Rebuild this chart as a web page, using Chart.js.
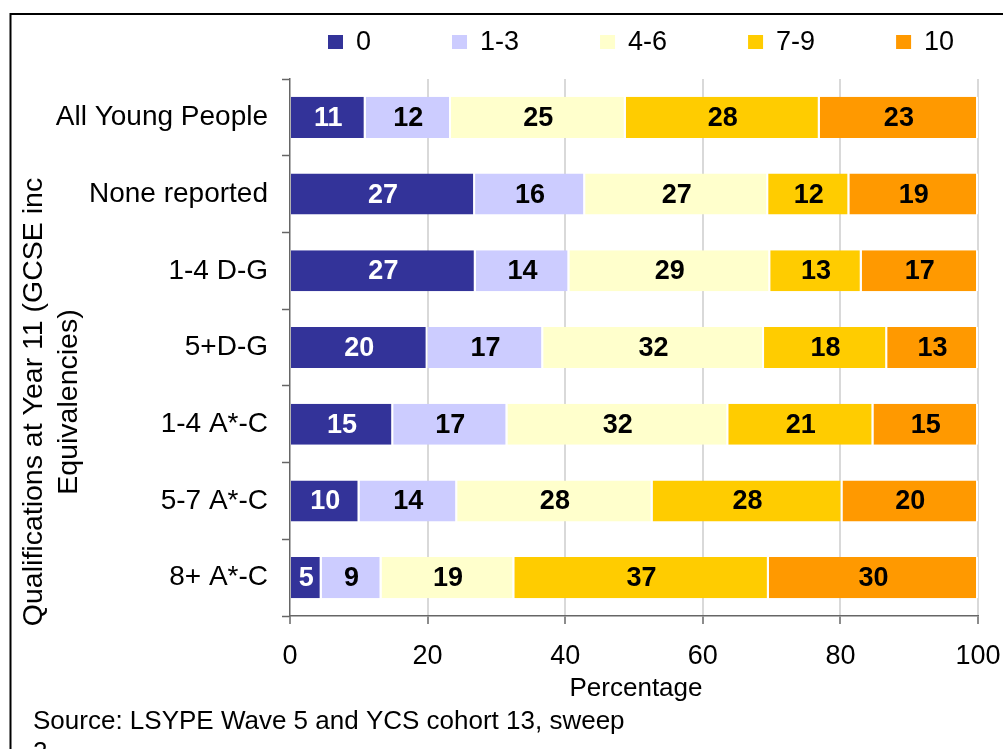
<!DOCTYPE html>
<html>
<head>
<meta charset="utf-8">
<script src="https://cdn.jsdelivr.net/npm/chart.js@4/dist/chart.umd.min.js"></script>
<style>
html,body{margin:0;padding:0;background:#fff;}
#wrap{position:relative;width:1003px;height:749px;}
canvas{display:block;}
</style>
</head>
<body>
<div id="wrap"><canvas id="c" width="1003" height="749"></canvas></div>
<script>
// ---- data ----
const categories = ['All Young People', 'None reported', '1-4 D-G', '5+D-G', '1-4 A*-C', '5-7 A*-C', '8+ A*-C'];
const seriesNames = ['0', '1-3', '4-6', '7-9', '10'];
const s0   = [11.0, 26.9, 27.0, 20.0, 15.0, 10.1, 4.6];
const s1_3 = [12.4, 16.0, 13.6, 16.8, 16.6, 14.2, 8.7];
const s4_6 = [25.4, 26.6, 29.2, 32.1, 32.1, 28.4, 19.3];
const s7_9 = [28.2, 11.8, 13.3, 17.9, 21.1, 27.6, 37.0];
const s10  = [23.0, 18.7, 16.9, 13.2, 15.2, 19.7, 30.4];
const xTicks = [0, 20, 40, 60, 80, 100];
const xTitle = 'Percentage';
const yTitleLines = ['Qualifications at Year 11 (GCSE inc', 'Equivalencies)'];
const sourceLines = ['Source: LSYPE Wave 5 and YCS cohort 13, sweep', '2'];

const colors = ['#333399', '#ccccff', '#ffffcc', '#ffcc00', '#ff9900'];
const labelColors = ['#ffffff', '#000000', '#000000', '#000000', '#000000'];
const allSeries = [s0, s1_3, s4_6, s7_9, s10];

const FONT = 'Arial, "Liberation Sans", sans-serif';

const datasets = allSeries.map((d, i) => ({
  label: seriesNames[i],
  data: d,
  backgroundColor: colors[i],
  borderColor: '#ffffff',
  borderWidth: {top: 0, bottom: 0, left: 0, right: 2},
  borderSkipped: false,
  barPercentage: 0.535,
  categoryPercentage: 1.0
}));

const extras = {
  id: 'extras',
  afterDatasetsDraw(chart) {
    const ctx = chart.ctx;
    ctx.save();
    ctx.font = 'bold 27px ' + FONT;
    ctx.textAlign = 'center';
    ctx.textBaseline = 'middle';
    chart.data.datasets.forEach((ds, i) => {
      const meta = chart.getDatasetMeta(i);
      meta.data.forEach((el, j) => {
        const p = el.getCenterPoint();
        ctx.fillStyle = labelColors[i];
        ctx.fillText(String(Math.round(ds.data[j])), p.x, p.y + 1);
      });
    });
    ctx.restore();
  },
  afterDraw(chart) {
    const ctx = chart.ctx;
    const ca = chart.chartArea;
    ctx.save();
    // legend
    ctx.font = '27px ' + FONT;
    ctx.textBaseline = 'middle';
    ctx.textAlign = 'left';
    let x = 328;
    const ly = 42;
    chart.data.datasets.forEach((ds, i) => {
      ctx.fillStyle = colors[i];
      ctx.fillRect(x, ly - 7, 15, 14);
      ctx.fillStyle = '#000';
      ctx.fillText(ds.label, x + 28, ly + 1);
      x += 28 + ctx.measureText(ds.label).width + 81;
    });
    // x title
    ctx.font = '26px ' + FONT;
    ctx.textAlign = 'center';
    ctx.fillText(xTitle, (ca.left + ca.right) / 2 + 2, 689);
    // source
    ctx.textAlign = 'left';
    sourceLines.forEach((t, k) => ctx.fillText(t, 33, 722 + k * 31));
    // y title
    ctx.font = '28.5px ' + FONT;
    ctx.textAlign = 'center';
    ctx.translate(0, 402);
    ctx.rotate(-Math.PI / 2);
    ctx.textBaseline = 'alphabetic';
    ctx.fillText(yTitleLines[0], 0, 42);
    ctx.fillText(yTitleLines[1], 0, 77);
    ctx.restore();
    // frame
    ctx.save();
    ctx.strokeStyle = '#000';
    ctx.lineWidth = 2;
    ctx.beginPath();
    ctx.moveTo(10.5, 760);
    ctx.lineTo(10.5, 14);
    ctx.lineTo(1010, 14);
    ctx.stroke();
    ctx.restore();
  }
};

new Chart(document.getElementById('c'), {
  type: 'bar',
  data: { labels: categories, datasets },
  options: {
    indexAxis: 'y',
    responsive: false,
    animation: false,
    devicePixelRatio: 1,
    layout: { padding: { top: 79, right: 25, left: 0, bottom: 0 } },
    plugins: { legend: { display: false }, tooltip: { enabled: false }, title: { display: false } },
    scales: {
      x: {
        type: 'linear',
        stacked: true,
        min: 0,
        max: 100,
        afterBuildTicks(s) { s.ticks = xTicks.map(v => ({ value: v })); },
        afterFit(s) { s.height = 133; s.paddingLeft = 0; s.paddingRight = 0; },
        ticks: { font: { family: FONT, size: 27 }, color: '#000', padding: 16, maxRotation: 0 },
        grid: {
          color: (c) => (c.tick && c.tick.value === 0) ? 'rgba(0,0,0,0)' : '#d9d9d9',
          lineWidth: 2,
          drawTicks: true,
          tickLength: 8,
          tickColor: '#666666',
          tickWidth: 1.5
        },
        border: { display: true, color: '#666666', width: 1.5 }
      },
      y: {
        type: 'category',
        stacked: true,
        afterFit(s) { s.width = 290; s.paddingTop = 0; s.paddingBottom = 0; },
        ticks: { font: { family: FONT, size: 28 }, color: '#000', padding: 14, autoSkip: false },
        grid: {
          drawOnChartArea: false,
          drawTicks: true,
          tickLength: 8,
          tickColor: '#666666',
          tickWidth: 1.5,
          offset: true
        },
        border: { display: true, color: '#666666', width: 1.5 }
      }
    }
  },
  plugins: [extras]
});
</script>
</body>
</html>
